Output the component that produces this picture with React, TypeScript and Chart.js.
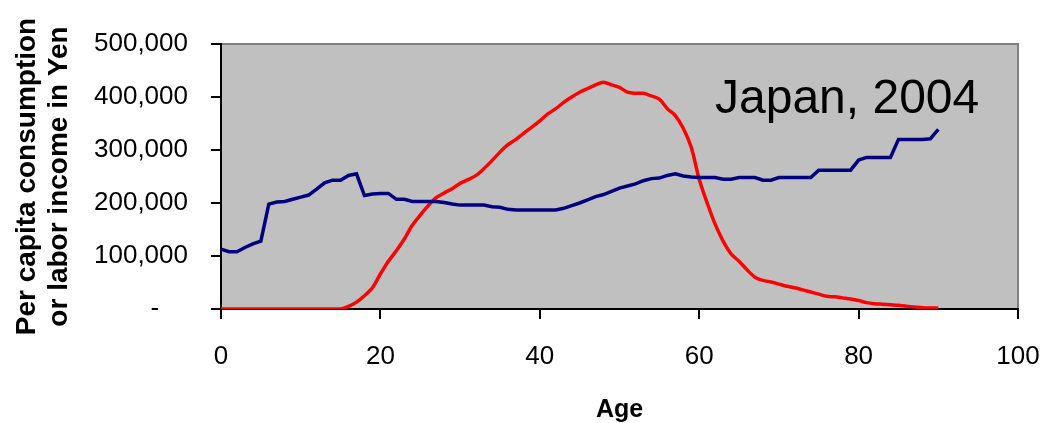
import React, { useEffect, useRef } from "react";
import { Chart, registerables } from "chart.js";

Chart.register(...registerables);

const ages: number[] = Array.from({ length: 91 }, (_, i) => i);

// Per capita consumption (Yen), ages 0..90
const consumption: number[] = [
  113000, 108000, 108000, 116000, 123000, 128000, 198000, 202000, 203000, 207000,
  211000, 215000, 226000, 238000, 243000, 243000, 252000, 255000, 214000, 217000,
  218000, 218000, 207000, 207000, 203000, 203000, 203000, 203000, 201000, 198000,
  196000, 196000, 196000, 196000, 193000, 192000, 188000, 187000, 187000, 187000,
  187000, 187000, 187000, 190000, 195000, 200000, 206000, 212000, 216000, 222000,
  228000, 232000, 236000, 242000, 246000, 247000, 252000, 255000, 251000, 249000,
  248000, 248000, 248000, 245000, 245000, 248000, 248000, 248000, 243000, 243000,
  248000, 248000, 248000, 248000, 248000, 262000, 262000, 262000, 262000, 262000,
  281000, 286000, 286000, 286000, 286000, 320000, 320000, 320000, 320000, 321000,
  339000,
];

// Per capita labor income (Yen), ages 0..90
const laborIncome: number[] = [
  0, 0, 0, 0, 0, 0, 0, 0, 0, 0,
  0, 0, 0, 0, 0, 0, 5000, 13000, 25000, 40000,
  66000, 90000, 110000, 132000, 158000, 177000, 195000, 210000, 219000, 227000,
  237000, 244000, 252000, 265000, 280000, 296000, 310000, 320000, 332000, 343000,
  355000, 368000, 378000, 390000, 400000, 409000, 416000, 423000, 428000, 423000,
  418000, 409000, 407000, 407000, 402000, 396000, 378000, 365000, 341000, 305000,
  245000, 200000, 160000, 128000, 104000, 90000, 74000, 60000, 54000, 51000,
  47000, 43000, 40000, 36000, 32000, 28000, 24000, 23000, 21000, 19000,
  16000, 12000, 10000, 9000, 8000, 7000, 5000, 4000, 2500, 2000,
  2000,
];

const xTicks: number[] = [0, 20, 40, 60, 80, 100];
const yTicks: number[] = [0, 100000, 200000, 300000, 400000, 500000];

const chartTitle = "Japan, 2004";
const yTitle = ["Per capita consumption", "or labor income in Yen"];
const xTitle = "Age";

const FONT = "Arial, 'Liberation Sans', sans-serif";

export default function App() {
  const canvasRef = useRef<HTMLCanvasElement | null>(null);

  useEffect(() => {
    if (!canvasRef.current) return;

    const bgPlugin = {
      id: "plotBg",
      beforeDraw(chart: any) {
        const { ctx, chartArea } = chart;
        ctx.save();
        ctx.fillStyle = "#C0C0C0";
        ctx.fillRect(chartArea.left, chartArea.top, chartArea.right - chartArea.left, chartArea.bottom - chartArea.top);
        ctx.strokeStyle = "#808080";
        ctx.lineWidth = 2;
        ctx.beginPath();
        ctx.moveTo(chartArea.left, chartArea.top);
        ctx.lineTo(chartArea.right, chartArea.top);
        ctx.lineTo(chartArea.right, chartArea.bottom);
        ctx.stroke();
        ctx.restore();
      },
      afterDraw(chart: any) {
        const { ctx, chartArea } = chart;
        ctx.save();
        ctx.fillStyle = "#000000";
        ctx.font = `48px ${FONT}`;
        ctx.textBaseline = "alphabetic";
        ctx.textAlign = "left";
        ctx.fillText(chartTitle, chartArea.left + 494, chartArea.top + 69);
        ctx.restore();
      },
    };

    const chart = new Chart(canvasRef.current, {
      type: "line",
      data: {
        datasets: [
          {
            label: "Consumption",
            data: ages.map((a, i) => ({ x: a, y: consumption[i] })),
            borderColor: "#000080",
            backgroundColor: "#000080",
            borderWidth: 3.5,
            pointRadius: 0,
            tension: 0,
            fill: false,
          },
          {
            label: "Labor income",
            data: ages.map((a, i) => ({ x: a, y: laborIncome[i] })),
            borderColor: "#FF0000",
            backgroundColor: "#FF0000",
            borderWidth: 3.5,
            pointRadius: 0,
            tension: 0.3,
            fill: false,
          },
        ],
      },
      options: {
        animation: false,
        responsive: true,
        maintainAspectRatio: false,
        layout: { padding: { top: 44, right: 23, left: 0, bottom: 0 } },
        plugins: {
          legend: { display: false },
          tooltip: { enabled: false },
        },
        scales: {
          x: {
            type: "linear",
            min: 0,
            max: 100,
            afterBuildTicks(scale: any) {
              scale.ticks = xTicks.map((v) => ({ value: v }));
            },
            afterFit(scale: any) {
              scale.height = 114;
              scale.paddingRight = 0;
              scale.paddingLeft = 0;
            },
            ticks: {
              color: "#000",
              font: { family: FONT, size: 26 },
              padding: 22,
              maxRotation: 0,
              autoSkip: false,
            },
            grid: {
              drawOnChartArea: false,
              drawTicks: true,
              tickLength: 10,
              color: "#000",
              lineWidth: 2,
            },
            border: { display: true, color: "#000", width: 2 },
            title: {
              display: true,
              text: xTitle,
              color: "#000",
              font: { family: FONT, size: 25, weight: "bold" },
              padding: { top: 0, bottom: -2 },
            },
          },
          y: {
            type: "linear",
            min: 0,
            max: 500000,
            afterBuildTicks(scale: any) {
              scale.ticks = yTicks.map((v) => ({ value: v }));
            },
            afterFit(scale: any) {
              scale.width = 221;
              scale.paddingTop = 0;
              scale.paddingBottom = 0;
            },
            ticks: {
              color: "#000",
              font: { family: FONT, size: 26 },
              padding: 23,
              callback: (v: any) => (Number(v) === 0 ? "-    " : Number(v).toLocaleString("en-US")),
            },
            grid: {
              drawOnChartArea: false,
              drawTicks: true,
              tickLength: 10,
              color: "#000",
              lineWidth: 2,
            },
            border: { display: true, color: "#000", width: 2 },
            title: {
              display: true,
              text: yTitle,
              color: "#000",
              font: { family: FONT, size: 28, weight: "bold", lineHeight: 1.15 },
              padding: { top: 11, bottom: 0 },
            },
          },
        },
      },
      plugins: [bgPlugin],
    });

    return () => chart.destroy();
  }, []);

  return (
    <div style={{ position: "absolute", left: 0, top: 0, width: 1041, height: 423 }}>
      <canvas ref={canvasRef} />
    </div>
  );
}
